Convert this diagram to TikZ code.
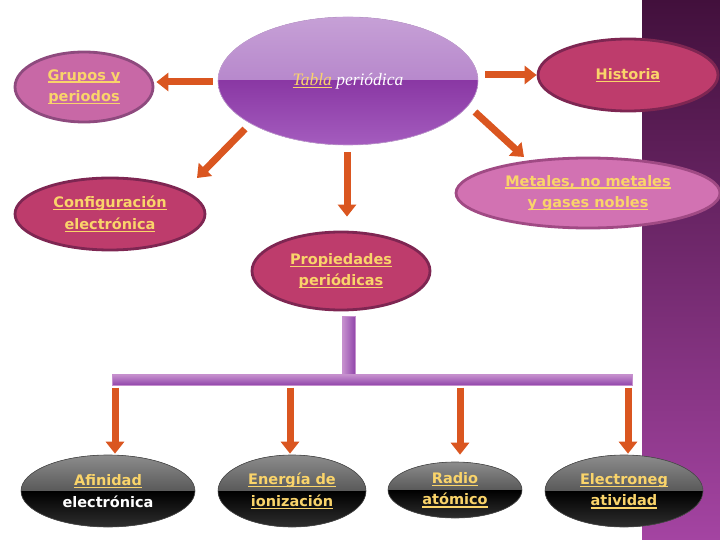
\documentclass[tikz,border=0pt]{standalone}
\usepackage{fontspec}
\setmainfont{DejaVu Sans}
\newfontfamily\scriptf{Liberation Serif}
\usetikzlibrary{arrows.meta,shapes.geometric,calc}
\definecolor{linky}{HTML}{FAD46A}
\definecolor{arrorange}{HTML}{DA5620}
\definecolor{pinkfill}{HTML}{C868A6}
\definecolor{pinkline}{HTML}{8E4A7E}
\definecolor{crimfill}{HTML}{BE3C6C}
\definecolor{crimline}{HTML}{7E2652}
\definecolor{lpinkfill}{HTML}{D272B2}
\definecolor{lpinkline}{HTML}{A04A84}
\definecolor{strtop}{HTML}{42103C}
\definecolor{strbot}{HTML}{A444A2}
\definecolor{tabtopA}{HTML}{C6A0D6}
\definecolor{tabtopB}{HTML}{A870C2}
\definecolor{tabbotA}{HTML}{8A38A4}
\definecolor{tabbotB}{HTML}{A45CBE}
\definecolor{barlight}{HTML}{C690CE}
\definecolor{bardark}{HTML}{9044AA}
\newcommand\lnk[1]{{\setbox0\hbox{#1}\rlap{\rule[-2.6pt]{\wd0}{1.3pt}}\box0}}
\begin{document}
\begin{tikzpicture}[x=1pt,y=-1pt,
  txt/.style={align=center, text=linky, font=\bfseries\fontsize{14.5}{21.5}\selectfont, inner sep=0pt},
  pinkell/.style={ellipse, txt, fill=pinkfill, draw=pinkline, line width=2.8pt},
  crimell/.style={ellipse, txt, fill=crimfill, draw=crimline, line width=2.8pt},
  lpinkell/.style={ellipse, txt, fill=lpinkfill, draw=lpinkline, line width=2.8pt},
  blackell/.style={ellipse, txt, draw=black!70, line width=0.6pt,
    path picture={
      \fill[top color=black!45, bottom color=black!85]
        (path picture bounding box.north west) rectangle (path picture bounding box.east);
      \fill[top color=black, bottom color=black!82]
        (path picture bounding box.west) rectangle (path picture bounding box.south east);
    }},
  tabell/.style={ellipse, draw=tabtopA, line width=0.6pt, inner sep=0pt,
    path picture={
      \fill[top color=tabtopA, bottom color=tabtopB]
        (path picture bounding box.north west) rectangle (path picture bounding box.east);
      \fill[top color=tabbotA, bottom color=tabbotB]
        (path picture bounding box.west) rectangle (path picture bounding box.south east);
    }},
  arr/.style={draw=arrorange, line width=7pt, -{Triangle[width=18pt,length=12pt]}},
  barh/.style={rectangle, inner sep=0pt, top color=barlight, bottom color=bardark, draw=barlight, line width=0.4pt},
  barv/.style={rectangle, inner sep=0pt, left color=barlight, right color=bardark, draw=barlight, line width=0.4pt}
]
\useasboundingbox (0,0) rectangle (720,540);
\fill[top color=strtop, bottom color=strbot] (642,0) rectangle (720,540);

% nodes
\node[tabell, minimum width=260, minimum height=128] (tabla) at (348,81)
  {\scriptf\itshape\fontsize{17.5}{20}\selectfont\textcolor{linky}{\lnk{Tabla}} \textcolor{white}{periódica}};
\node[pinkell, minimum width=138, minimum height=70] (grupos) at (84,87) {\lnk{Grupos y}\\\lnk{periodos}};
\node[crimell, minimum width=180, minimum height=72] (historia) at (628,75) {\lnk{Historia}};
\node[lpinkell, minimum width=264, minimum height=70] (metales) at (588,193) {\lnk{Metales, no metales}\\\lnk{y gases nobles}};
\node[crimell, minimum width=190, minimum height=72] (config) at (110,214) {\lnk{Configuración}\\\lnk{electrónica}};
\node[crimell, minimum width=178, minimum height=78] (prop) at (341,271) {\lnk{Propiedades}\\\lnk{periódicas}};

\node[barv, minimum width=13, minimum height=62] (vbar) at (349,347) {};
\node[barh, minimum width=520, minimum height=11] (hbar) at (372,380) {};

\node[blackell, minimum width=174, minimum height=72] (afin) at (108,491) {\lnk{Afinidad}\\\textcolor{white}{electrónica}};
\node[blackell, minimum width=148, minimum height=72] (energia) at (292,491) {\lnk{Energía de}\\\lnk{ionización}};
\node[blackell, minimum width=134, minimum height=56] (radio) at (455,490) {\lnk{Radio}\\\lnk{atómico}};
\node[blackell, minimum width=158, minimum height=72] (electro) at (624,491) {\lnk{Electroneg}\\\lnk{atividad}};

% connectors
\coordinate (d1a) at (245,129);
\coordinate (d1b) at (197,178);
\coordinate (d2a) at (475,112);
\coordinate (d2b) at (524,157);

\draw[arr] ($(tabla.west)+(-5,1)$) -- ($(grupos.east)+(2,-5)$);
\draw[arr] ($(tabla.east |- historia.west)+(7,0)$) -- (historia.west);
\draw[arr] (d1a) -- (d1b);
\draw[arr] (d2a) -- (d2b);
\draw[arr] ($(tabla.south)+(-1,7)$) -- ($(prop.north)+(6,-14)$);

\draw[arr] ($(hbar.south -| afin.north)+(7,2)$) -- ($(afin.north)+(7,-1)$);
\draw[arr] ($(hbar.south -| energia.north)+(-2,2)$) -- ($(energia.north)+(-2,-1)$);
\draw[arr] ($(hbar.south -| radio.north)+(5,2)$) -- ($(radio.north)+(5,-7)$);
\draw[arr] ($(hbar.south -| electro.north)+(4,2)$) -- ($(electro.north)+(4,-1)$);
\end{tikzpicture}
\end{document}
